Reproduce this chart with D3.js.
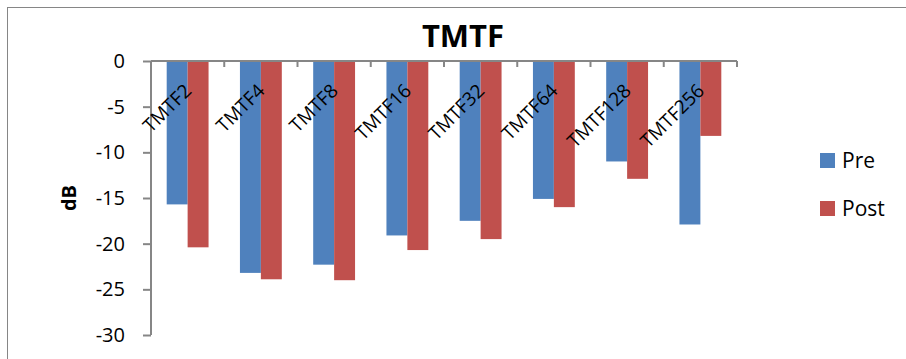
<!DOCTYPE html>
<html>
<head>
<meta charset="utf-8">
<script src="https://cdn.jsdelivr.net/npm/d3@7"></script>
<style>
  html, body { margin: 0; padding: 0; background: #fff; }
  svg { display: block; font-family: "Open Sans", sans-serif; }
</style>
</head>
<body>
<svg id="chart" width="906" height="359"></svg>
<script>
// TMTF thresholds before and after, in dB
const categories = ["TMTF2", "TMTF4", "TMTF8", "TMTF16", "TMTF32", "TMTF64", "TMTF128", "TMTF256"];
const seriesNames = ["Pre", "Post"];
const preValues = [-15.7, -23.2, -22.3, -19.1, -17.5, -15.1, -11.0, -17.9];
const postValues = [-20.4, -23.9, -24.0, -20.7, -19.5, -16.0, -12.9, -8.2];
const yTicks = [0, -5, -10, -15, -20, -25, -30];
const colors = { Pre: "#4F81BD", Post: "#C0504D" };

const svg = d3.select("#chart");
const axisColor = "#868686";

// outer chart frame
svg.append("rect")
  .attr("x", 7.5).attr("y", 7.5)
  .attr("width", 1200).attr("height", 800)
  .attr("fill", "none").attr("stroke", axisColor).attr("stroke-width", 1);

const plot = { left: 151, right: 737, top: 61, bottom: 335 };

const x0 = d3.scaleBand().domain(categories).range([plot.left, plot.right]).padding(0);
const bw = x0.bandwidth();
const gap = bw * 1.5 / 3.5;
const x1 = d3.scaleBand().domain(seriesNames).range([gap / 2, bw - gap / 2]).padding(0);
const y = d3.scaleLinear().domain([0, -30]).range([plot.top, plot.bottom]);

const rows = categories.map((c, i) => ({ cat: c, Pre: preValues[i], Post: postValues[i] }));

// bars
const groups = svg.append("g").selectAll("g").data(rows).join("g")
  .attr("transform", d => `translate(${x0(d.cat)},0)`);
groups.selectAll("rect")
  .data(d => seriesNames.map(s => ({ s, v: d[s] })))
  .join("rect")
  .attr("x", d => x1(d.s))
  .attr("width", x1.bandwidth())
  .attr("y", d => y(0))
  .attr("height", d => y(d.v) - y(0))
  .attr("fill", d => colors[d.s]);

// y axis
const yAxis = svg.append("g")
  .attr("transform", `translate(${plot.left},0)`)
  .call(d3.axisLeft(y).tickValues(yTicks).tickSize(8).tickPadding(18).tickFormat(d3.format("d")));
yAxis.select(".domain").attr("stroke", axisColor).attr("stroke-width", 2)
  .attr("d", `M0,${plot.top}V${plot.bottom}`);
yAxis.selectAll(".tick line").attr("stroke", axisColor).attr("stroke-width", 2);
yAxis.selectAll(".tick text")
  .attr("font-size", 20).attr("fill", "#000")
  .attr("font-family", "'Open Sans', sans-serif")
  .text(d => d === 0 ? "0" : "-" + Math.abs(d));

// x axis along the zero line, ticks at category boundaries
const bounds = categories.map(c => x0(c)).concat([plot.right]);
const xAxis = svg.append("g");
xAxis.append("line")
  .attr("x1", plot.left).attr("x2", plot.right)
  .attr("y1", y(0)).attr("y2", y(0))
  .attr("stroke", axisColor).attr("stroke-width", 2);
xAxis.selectAll("line.tick").data(bounds).join("line")
  .attr("class", "tick")
  .attr("x1", d => d).attr("x2", d => d)
  .attr("y1", y(0)).attr("y2", y(0) + 6)
  .attr("stroke", axisColor).attr("stroke-width", 2);

// category labels, rotated
svg.append("g").selectAll("text").data(categories).join("text")
  .attr("transform", d => `translate(${x0(d) + bw / 2 + 5},${y(0) + 31}) rotate(-45)`)
  .attr("text-anchor", "end")
  .attr("font-size", 19)
  .attr("fill", "#000")
  .text(d => d);

// title
svg.append("text")
  .attr("x", 463).attr("y", 47)
  .attr("text-anchor", "middle")
  .attr("font-size", 31).attr("font-weight", "bold")
  .text("TMTF");

// y axis title
svg.append("text")
  .attr("transform", "translate(76,198) rotate(-90)")
  .attr("text-anchor", "middle")
  .attr("font-size", 20).attr("font-weight", "bold")
  .text("dB");

// legend
const legend = svg.append("g").selectAll("g").data(seriesNames).join("g")
  .attr("transform", (d, i) => `translate(820,${153 + i * 48})`);
legend.append("rect")
  .attr("width", 15).attr("height", 15)
  .attr("fill", d => colors[d]);
legend.append("text")
  .attr("x", 22).attr("y", 15)
  .attr("font-size", 21).attr("fill", "#000")
  .text(d => d);
</script>
</body>
</html>
